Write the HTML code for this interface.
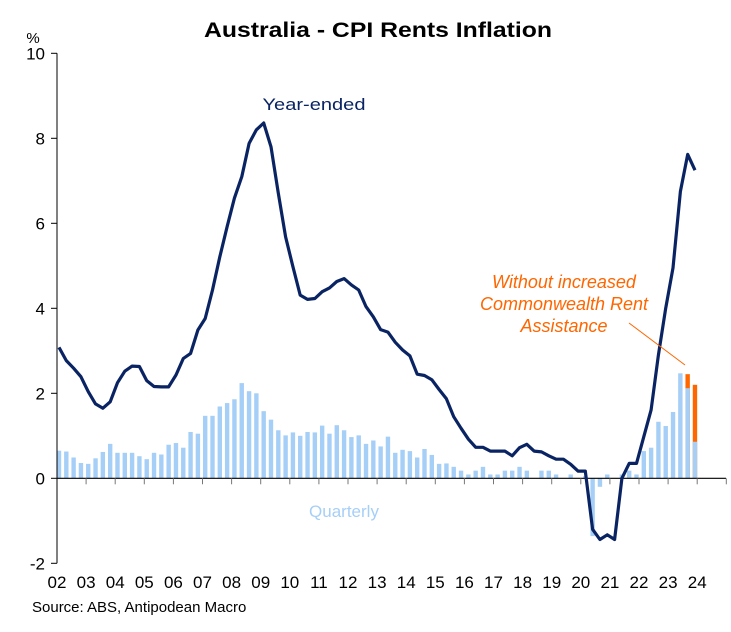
<!DOCTYPE html>
<html><head><meta charset="utf-8"><style>
html,body{margin:0;padding:0;background:#fff;}
svg{display:block;font-family:"Liberation Sans",Arial,sans-serif;}
</style></head><body>
<svg id="chart" width="731" height="632" viewBox="0 0 731 632">
<text x="378" y="37" text-anchor="middle" font-size="21" font-weight="bold" textLength="348" lengthAdjust="spacingAndGlyphs">Australia - CPI Rents Inflation</text>
<text x="33" y="43" text-anchor="middle" font-size="15">%</text>
<g id="bars"></g>
<g id="axes"></g>
<path id="line" fill="none" stroke="#0a2463" stroke-width="3.2" stroke-linejoin="round"></path>
<text x="314" y="110" text-anchor="middle" font-size="17" fill="#0a2463" textLength="103" lengthAdjust="spacingAndGlyphs">Year-ended</text>
<text x="344" y="517" text-anchor="middle" font-size="17" fill="#a6cff7">Quarterly</text>
<g fill="#ff6600" font-size="18" font-style="italic" text-anchor="middle">
<text x="564" y="288">Without increased</text>
<text x="564" y="310">Commonwealth Rent</text>
<text x="564" y="332">Assistance</text>
</g>
<line x1="629" y1="323" x2="685" y2="365" stroke="#ff6600" stroke-width="1"></line>
<text x="32" y="612" font-size="15">Source: ABS, Antipodean Macro</text>
</svg>
<script>
const quarterly = [0.65,0.63,0.49,0.36,0.34,0.47,0.62,0.81,0.60,0.60,0.60,0.52,0.45,0.60,0.56,0.79,0.83,0.72,1.09,1.05,1.47,1.47,1.69,1.77,1.86,2.24,2.05,2.00,1.58,1.38,1.13,1.01,1.08,1.00,1.09,1.08,1.24,1.05,1.25,1.13,0.97,1.01,0.81,0.89,0.75,0.98,0.60,0.67,0.64,0.49,0.69,0.55,0.34,0.35,0.27,0.18,0.09,0.18,0.27,0.09,0.09,0.18,0.18,0.27,0.18,0,0.18,0.18,0.09,0,0.09,0,0.05,-1.36,-0.20,0.09,0,0.09,0.18,0.09,0.64,0.72,1.33,1.23,1.56,2.47,2.12,0.86];
const withoutCRA = [null,null,null,null,null,null,null,null,null,null,null,null,null,null,null,null,null,null,null,null,null,null,null,null,null,null,null,null,null,null,null,null,null,null,null,null,null,null,null,null,null,null,null,null,null,null,null,null,null,null,null,null,null,null,null,null,null,null,null,null,null,null,null,null,null,null,null,null,null,null,null,null,null,null,null,null,null,null,null,null,null,null,null,null,null,null,2.45,2.20];
const yearEnded = [3.08,2.77,2.59,2.39,2.04,1.75,1.65,1.80,2.25,2.52,2.64,2.63,2.30,2.16,2.15,2.15,2.43,2.82,2.94,3.49,3.76,4.43,5.21,5.92,6.59,7.10,7.88,8.20,8.36,7.80,6.71,5.68,4.98,4.31,4.21,4.23,4.39,4.48,4.63,4.70,4.55,4.43,4.04,3.80,3.50,3.44,3.20,3.02,2.88,2.45,2.42,2.32,2.09,1.87,1.45,1.18,0.92,0.73,0.73,0.64,0.64,0.64,0.53,0.72,0.80,0.64,0.62,0.53,0.45,0.45,0.33,0.17,0.17,-1.20,-1.44,-1.33,-1.44,0.00,0.35,0.35,0.98,1.61,2.90,4.00,4.95,6.75,7.62,7.25];
const yTicks = [-2,0,2,4,6,8,10];
const xYears = ["02","03","04","05","06","07","08","09","10","11","12","13","14","15","16","17","18","19","20","21","22","23","24"];

const NS="http://www.w3.org/2000/svg";
const X0=59, DX=7.31;
function xq(i){return X0+DX*i;}
function yv(v){return 478.3-42.5*v;}
function xTick(k){return 57+29.1*k;}
function mk(tag,attrs,parent){const e=document.createElementNS(NS,tag);for(const k in attrs)e.setAttribute(k,attrs[k]);parent.appendChild(e);return e;}

const bars=document.getElementById('bars');
quarterly.forEach((v,i)=>{
  if(withoutCRA[i]!=null){
    const o=mk('rect',{x:xq(i)-2.2,y:yv(withoutCRA[i]),width:4.4,height:yv(0)-yv(withoutCRA[i]),fill:'#ff6600'},bars);
    
    
  }
  if(v===0)return;
  const top=Math.min(yv(v),yv(0)),h=Math.abs(yv(v)-yv(0));
  const r=mk('rect',{x:xq(i)-2.2,y:top,width:4.4,height:h,fill:'#a6cff7'},bars);
  
  
});

const ax=document.getElementById('axes');
const yl=mk('line',{x1:57,y1:yv(10),x2:57,y2:yv(-2),stroke:'#000','stroke-width':1},ax);


const xl=mk('line',{x1:57,y1:yv(0),x2:726,y2:yv(0),stroke:'#000','stroke-width':1.2},ax);


yTicks.forEach(t=>{
  mk('line',{x1:51,y1:yv(t),x2:57,y2:yv(t),stroke:'#000','stroke-width':1},ax);
  const tx=mk('text',{x:45,y:yv(t)+6,'text-anchor':'end','font-size':17},ax);
  tx.textContent=t;
  
  
});
for(let k=1;k<=23;k++){
  mk('line',{x1:xTick(k),y1:yv(0),x2:xTick(k),y2:yv(0)+6,stroke:'#777','stroke-width':1},ax);
}
xYears.forEach((y,k)=>{
  const tx=mk('text',{x:xTick(k),y:588,'text-anchor':'middle','font-size':17},ax);
  tx.textContent=y;
  
  
});

document.getElementById('line').setAttribute('d',yearEnded.map((v,i)=>(i?'L':'M')+xq(i).toFixed(1)+','+yv(v).toFixed(1)).join(''));
</script>
</body></html>
